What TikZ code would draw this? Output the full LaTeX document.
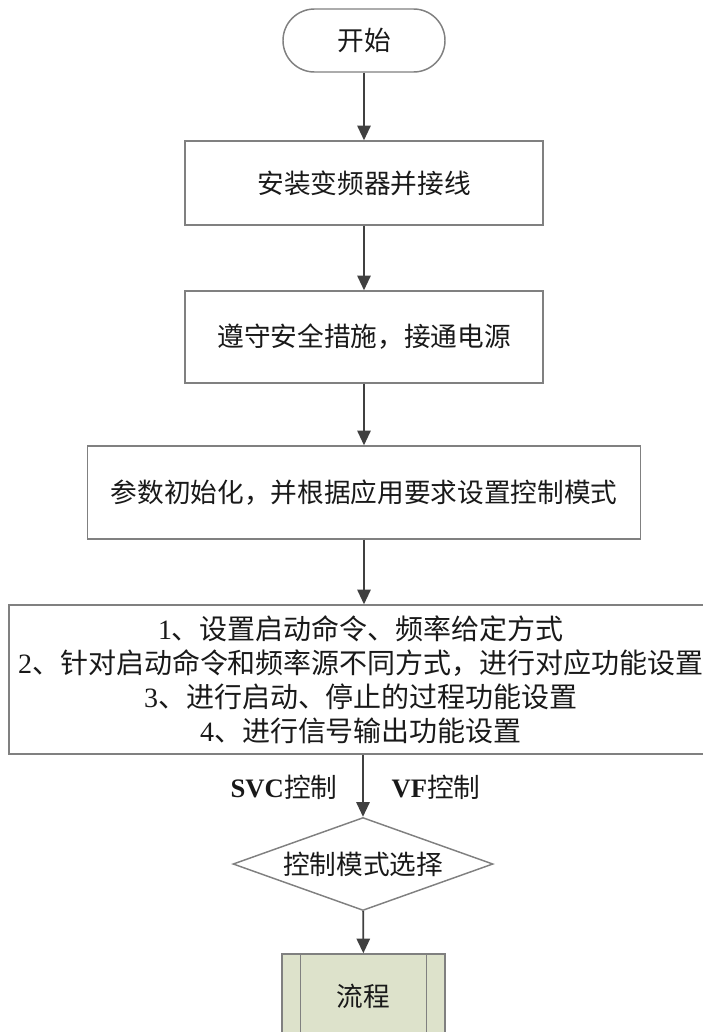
\documentclass[tikz,border=0pt]{standalone}
\usepackage{fontspec}
\setmainfont{Liberation Serif}
\newfontfamily\cjk{Noto Sans CJK SC}
\usetikzlibrary{
  arrows.meta,
  positioning,
  shapes.geometric
}
\definecolor{edge}{RGB}{128,128,128}
\definecolor{flow}{RGB}{64,64,64}
\definecolor{procfill}{RGB}{221,226,203}
\newcommand{\zh}[1]{{\cjk #1}}

\begin{document}
\begin{tikzpicture}[
  x=0.75pt, y=0.75pt,
  every node/.style={font=\fontsize{20}{25.5}\selectfont, text=black!90},
  stepbox/.style={draw=edge, line width=1.1pt, align=center, inner sep=0pt},
  terminal/.style={stepbox, rounded corners=23.6pt,
                   minimum width=121.5pt, minimum height=47.25pt},
  choice/.style={stepbox, diamond, aspect=2.8,
                 minimum width=195pt, minimum height=69.75pt},
  procbox/.style={stepbox, fill=procfill,
                  minimum width=122.25pt, minimum height=63pt},
  flowarrow/.style={draw=flow, line width=1.4pt,
                    -{Triangle[length=11pt, width=10pt]}}
]
\useasboundingbox (0,0) rectangle (703,-1032);

\node[terminal] (start) at (364,-40.5) {\zh{开始}};

\node[stepbox, minimum width=268.5pt, minimum height=63pt]
  (install) at (364,-183) {\zh{安装变频器并接线}};

\node[stepbox, minimum width=268.5pt, minimum height=69pt]
  (power) at (364,-337) {\zh{遵守安全措施，接通电源}};

\node[stepbox, minimum width=414.75pt, minimum height=69.75pt]
  (init) at (364,-492.5) {\zh{参数初始化，并根据应用要求设置控制模式}};

\node[stepbox, minimum width=528pt, minimum height=111.75pt,
      font=\fontsize{21}{25.5}\selectfont]
  (setup) at (361,-679.5) {%
  1\zh{、设置启动命令、频率给定方式}\\
  2\zh{、针对启动命令和频率源不同方式，进行对应功能设置}\\
  3\zh{、进行启动、停止的过程功能设置}\\
  4\zh{、进行信号输出功能设置}
};

\node[choice] (mode) at (363,-864) {\zh{控制模式选择}};

\node[procbox] (proc) at (363.5,-996) {\zh{流程}};
\draw[edge, line width=1.1pt] ([xshift=14.25pt]proc.north west)
  -- ([xshift=14.25pt]proc.south west);
\draw[edge, line width=1.1pt] ([xshift=-14.25pt]proc.north east)
  -- ([xshift=-14.25pt]proc.south east);

% connectors
\draw[flowarrow] (start) -- (install);
\draw[flowarrow] (install) -- (power);
\draw[flowarrow] (power) -- (init);
\draw[flowarrow] (init.south) -- (init.south |- setup.north);
\draw[flowarrow] (setup.south -| mode) -- (mode.north);
\draw[flowarrow] (mode) -- (proc);

\node (svc) at (284,-787) {\textbf{SVC}\zh{控制}};
\node (vf) at (436,-787) {\textbf{VF}\zh{控制}};

\end{tikzpicture}
\end{document}
